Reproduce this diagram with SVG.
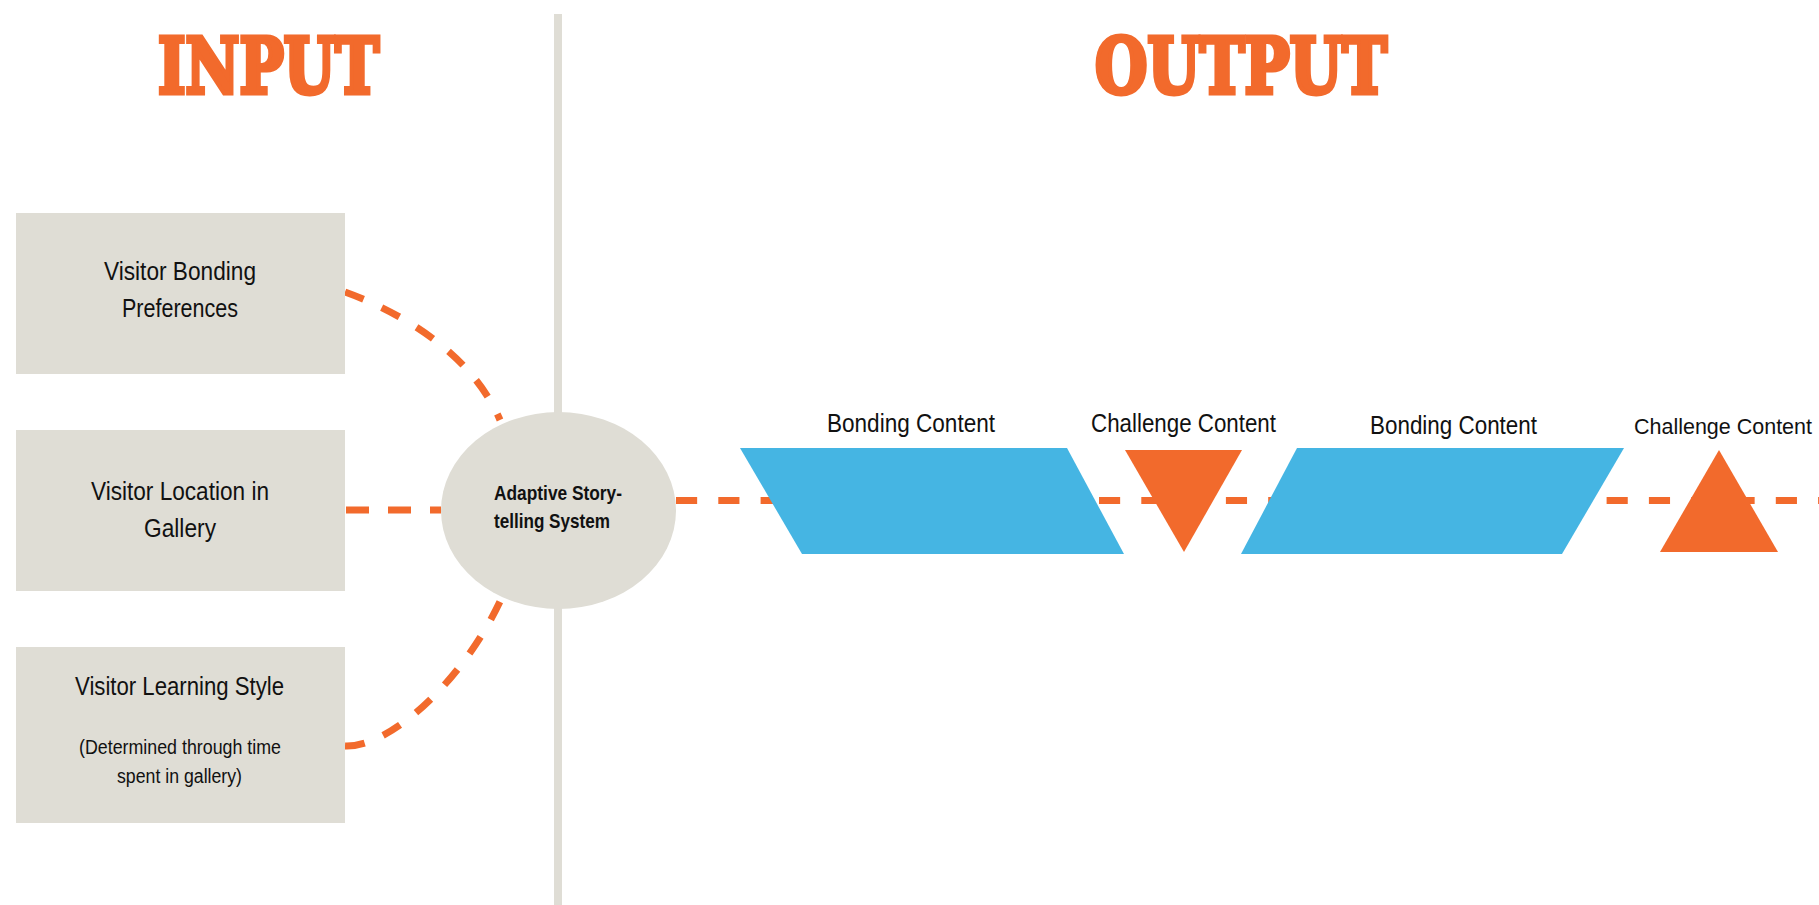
<svg xmlns="http://www.w3.org/2000/svg" width="1819" height="905" viewBox="0 0 1819 905">
<style>
.title{font-family:"DejaVu Serif","Liberation Serif",serif;font-weight:900;font-size:76px;fill:#F26A2C;stroke:#F26A2C;stroke-width:5;stroke-linejoin:miter}
.lbl{font-family:"Liberation Sans",Arial,sans-serif;font-size:26px;fill:#111}
.sm{font-family:"Liberation Sans",Arial,sans-serif;font-size:20px;fill:#111}
.ct{font-family:"Liberation Sans",Arial,sans-serif;font-size:25px;fill:#111}
.ct2{font-family:"Liberation Sans",Arial,sans-serif;font-size:22px;fill:#111}
.bold{font-family:"Liberation Sans",Arial,sans-serif;font-size:21px;font-weight:bold;fill:#111}
.box{fill:#DFDDD5}
.dash{fill:none;stroke:#F26A2C;stroke-width:7}
.blue{fill:#45B5E3}
.orange{fill:#F26A2C}
</style>
<rect id="divider" x="554" y="14" width="8" height="891" fill="#DFDDD5"/>
<text class="title" x="158" y="93" textLength="221" lengthAdjust="spacingAndGlyphs">INPUT</text>
<text class="title" x="1095" y="93" textLength="292" lengthAdjust="spacingAndGlyphs">OUTPUT</text>
<g id="connectors">
<path class="dash" d="M345,292 C395,310 470,350 500,420" stroke-dasharray="20 20"/>
<path class="dash" d="M346,510 L441,510" stroke-dasharray="23 19"/>
<path class="dash" d="M345,746 C390,748 465,680 503,595" stroke-dasharray="20 20"/>
<path class="dash" d="M676,500.5 L1819,500.5" stroke-dasharray="21.15 21.15"/>
</g>
<g id="box-bonding">
<rect class="box" x="16" y="213" width="329" height="161"/>
<text class="lbl" x="104" y="280" textLength="152" lengthAdjust="spacingAndGlyphs">Visitor Bonding</text>
<text class="lbl" x="122" y="317" textLength="116" lengthAdjust="spacingAndGlyphs">Preferences</text>
</g>
<g id="box-location">
<rect class="box" x="16" y="430" width="329" height="161"/>
<text class="lbl" x="91" y="500" textLength="178" lengthAdjust="spacingAndGlyphs">Visitor Location in</text>
<text class="lbl" x="144" y="537" textLength="72" lengthAdjust="spacingAndGlyphs">Gallery</text>
</g>
<g id="box-learning">
<rect class="box" x="16" y="647" width="329" height="176"/>
<text class="lbl" x="75" y="695" textLength="209" lengthAdjust="spacingAndGlyphs">Visitor Learning Style</text>
<text class="sm" x="79" y="754" textLength="202" lengthAdjust="spacingAndGlyphs">(Determined through time</text>
<text class="sm" x="117" y="783" textLength="125" lengthAdjust="spacingAndGlyphs">spent in gallery)</text>
</g>
<g id="system">
<ellipse cx="558.5" cy="510.5" rx="117.5" ry="98.5" fill="#DFDDD5"/>
<text class="bold" x="494" y="500" textLength="128" lengthAdjust="spacingAndGlyphs">Adaptive Story-</text>
<text class="bold" x="494" y="528" textLength="116" lengthAdjust="spacingAndGlyphs">telling System</text>
</g>
<g id="bonding-1">
<polygon class="blue" points="740,448 1067,448 1124,554 802,554"/>
<text class="ct" x="827" y="432" textLength="168" lengthAdjust="spacingAndGlyphs">Bonding Content</text>
</g>
<g id="challenge-1">
<polygon class="orange" points="1125,450 1242,450 1184,552"/>
<text class="ct" x="1091" y="432" textLength="185" lengthAdjust="spacingAndGlyphs">Challenge Content</text>
</g>
<g id="bonding-2">
<polygon class="blue" points="1297,448 1624,448 1562,554 1241,554"/>
<text class="ct" x="1370" y="434" textLength="167" lengthAdjust="spacingAndGlyphs">Bonding Content</text>
</g>
<g id="challenge-2">
<polygon class="orange" points="1719,450 1778,552 1660,552"/>
<text class="ct2" x="1634" y="434" textLength="178" lengthAdjust="spacingAndGlyphs">Challenge Content</text>
</g>
</svg>
